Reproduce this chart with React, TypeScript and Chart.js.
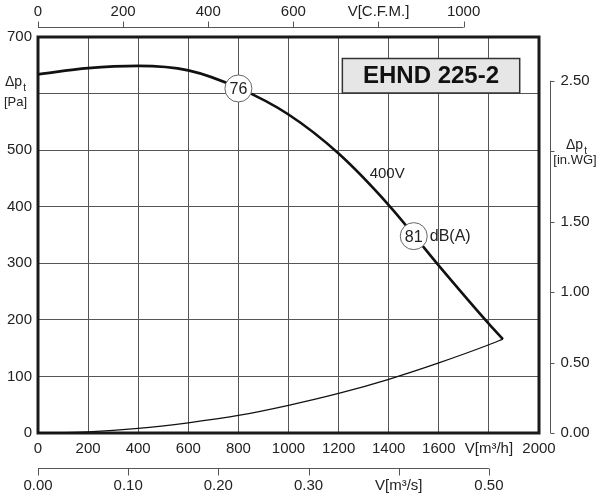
import { useEffect, useRef } from "react"
import { Chart, registerables } from "chart.js"

Chart.register(...registerables)

// fan curve, 400V
const flowM3h = [0, 200, 400, 600, 800, 1000, 1200, 1400, 1600, 1800, 1856]
const fanPa = [634, 645, 649, 641, 610, 563, 494, 403, 296, 193, 166]

// system curve
const systemFlow = [0, 200, 400, 600, 800, 1000, 1200, 1400, 1600, 1800, 1856]
const systemPa = [0, 2, 8, 18, 31, 49, 70, 95, 124, 156, 166]

// sound level marks on the curve
const soundFlow = [800, 1500]
const soundPa = [609, 348]
const soundLabels = ["76", "81"]

// secondary axes
const cfmTicks = [0, 200, 400, 600, 800, 1000]
const cfmLabels = ["0", "200", "400", "600", "V[C.F.M.]", "1000"]
const m3sTicks = [0, 0.1, 0.2, 0.3, 0.4, 0.5]
const m3sLabels = ["0.00", "0.10", "0.20", "0.30", "V[m³/s]", "0.50"]
const inwgTicks = [0, 0.5, 1, 1.5, 2, 2.5]
const inwgLabels = ["0.00", "0.50", "1.00", "1.50", "", "2.50"]

const CFM_TO_M3H = 1.699
const M3S_TO_M3H = 3600
const INWG_TO_PA = 249.09

const FONT = "'Liberation Sans', Arial, Helvetica, sans-serif"
const TEXT = "#222"
const AXIS = "#555"

const framePlugin = {
  id: "frame",
  beforeDatasetsDraw(chart: any) {
    const { ctx, chartArea: a } = chart
    ctx.save()
    ctx.strokeStyle = "#1a1a1a"
    ctx.lineWidth = 3
    ctx.strokeRect(a.left, a.top, a.right - a.left, a.bottom - a.top)
    ctx.restore()
  },
}

const extraAxesPlugin = {
  id: "extraAxes",
  afterDraw(chart: any) {
    const { ctx, chartArea: a } = chart
    const xs = chart.scales.x
    const ys = chart.scales.y
    ctx.save()
    ctx.strokeStyle = AXIS
    ctx.lineWidth = 1
    ctx.fillStyle = TEXT
    ctx.font = `15px ${FONT}`

    // top: C.F.M.
    const topY = 27.5
    const cfmPx = cfmTicks.map((v) => xs.getPixelForValue(v * CFM_TO_M3H))
    ctx.beginPath()
    ctx.moveTo(cfmPx[0], topY)
    ctx.lineTo(cfmPx[cfmPx.length - 1], topY)
    cfmPx.forEach((px) => {
      ctx.moveTo(Math.round(px) + 0.5, topY)
      ctx.lineTo(Math.round(px) + 0.5, topY - 6)
    })
    ctx.stroke()
    ctx.textAlign = "center"
    ctx.textBaseline = "middle"
    cfmPx.forEach((px, i) => ctx.fillText(cfmLabels[i], px, 12))

    // bottom: m3/s
    const botY = 468.5
    const m3sPx = m3sTicks.map((v) => xs.getPixelForValue(v * M3S_TO_M3H))
    ctx.beginPath()
    ctx.moveTo(m3sPx[0], botY)
    ctx.lineTo(m3sPx[m3sPx.length - 1], botY)
    m3sPx.forEach((px) => {
      ctx.moveTo(Math.round(px) + 0.5, botY)
      ctx.lineTo(Math.round(px) + 0.5, botY + 7)
    })
    ctx.stroke()
    m3sPx.forEach((px, i) => ctx.fillText(m3sLabels[i], px, 486))

    // right: in.WG
    const rightX = a.right + 11.5
    const wgPx = inwgTicks.map((v) => ys.getPixelForValue(v * INWG_TO_PA))
    ctx.beginPath()
    ctx.moveTo(rightX, wgPx[0])
    ctx.lineTo(rightX, wgPx[wgPx.length - 1])
    wgPx.forEach((py) => {
      ctx.moveTo(rightX, Math.round(py) + 0.5)
      ctx.lineTo(rightX + 4, Math.round(py) + 0.5)
    })
    ctx.stroke()
    ctx.textAlign = "left"
    wgPx.forEach((py, i) => ctx.fillText(inwgLabels[i], rightX + 10, py))

    // axis titles for pressure
    const deltaP = (x: number, y: number) => {
      ctx.textAlign = "left"
      ctx.font = `14px ${FONT}`
      ctx.fillText("Δp", x, y)
      const w = ctx.measureText("Δp").width
      ctx.font = `10px ${FONT}`
      ctx.fillText("t", x + w + 1, y + 6)
    }
    deltaP(5, 82)
    ctx.font = `13px ${FONT}`
    ctx.textAlign = "left"
    ctx.fillText("[Pa]", 4, 102)
    deltaP(566, 145)
    ctx.font = `13px ${FONT}`
    ctx.textAlign = "center"
    ctx.fillText("[in.WG]", 575, 160)
    ctx.restore()
  },
  afterDatasetsDraw(chart: any) {
    const { ctx } = chart
    const xs = chart.scales.x
    const ys = chart.scales.y
    ctx.save()
    ctx.fillStyle = TEXT
    ctx.textBaseline = "middle"
    ctx.textAlign = "center"

    // numbers in sound circles
    ctx.font = `16px ${FONT}`
    const meta = chart.getDatasetMeta(0)
    meta.data.forEach((pt: any, i: number) => {
      ctx.fillText(soundLabels[i], pt.x, pt.y + 1)
    })
    const last = meta.data[meta.data.length - 1]
    ctx.textAlign = "left"
    ctx.fillText("dB(A)", last.x + 16, last.y)

    ctx.textAlign = "center"
    ctx.font = `15px ${FONT}`
    ctx.fillText("400V", xs.getPixelForValue(1394), ys.getPixelForValue(458))

    // model box
    const l = xs.getPixelForValue(1215)
    const r = xs.getPixelForValue(1923)
    const t = ys.getPixelForValue(662)
    const b = ys.getPixelForValue(601)
    ctx.fillStyle = "#e6e6e6"
    ctx.fillRect(l, t, r - l, b - t)
    ctx.strokeStyle = "#333"
    ctx.lineWidth = 1.5
    ctx.strokeRect(l, t, r - l, b - t)
    ctx.fillStyle = "#111"
    ctx.font = `bold 24px ${FONT}`
    ctx.fillText("EHND 225-2", (l + r) / 2, (t + b) / 2 + 1)
    ctx.restore()
  },
}

export default function App() {
  const chartRef = useRef<HTMLCanvasElement>(null)
  const chartInstance = useRef<Chart | null>(null)

  useEffect(() => {
    if (!chartRef.current) return
    if (chartInstance.current) chartInstance.current.destroy()
    const ctx = chartRef.current.getContext("2d")
    if (!ctx) return

    chartInstance.current = new Chart(ctx, {
      type: "line",
      data: {
        datasets: [
          {
            type: "scatter",
            data: soundFlow.map((v, i) => ({ x: v, y: soundPa[i] })),
            pointRadius: 13.5,
            pointBackgroundColor: "#fff",
            pointBorderColor: "#666",
            pointBorderWidth: 1,
            showLine: false,
          } as any,
          {
            data: flowM3h.map((v, i) => ({ x: v, y: fanPa[i] })),
            borderColor: "#111",
            borderWidth: 2.6,
            pointRadius: 0,
            cubicInterpolationMode: "monotone",
          },
          {
            data: systemFlow.map((v, i) => ({ x: v, y: systemPa[i] })),
            borderColor: "#111",
            borderWidth: 1.3,
            pointRadius: 0,
            cubicInterpolationMode: "monotone",
          },
        ],
      },
      options: {
        animation: false,
        responsive: true,
        maintainAspectRatio: false,
        layout: { padding: { top: 37, right: 61, bottom: 0, left: 0 } },
        scales: {
          x: {
            type: "linear",
            min: 0,
            max: 2000,
            afterFit: (s: any) => {
              s.height = 67
            },
            ticks: {
              stepSize: 200,
              autoSkip: false,
              maxRotation: 0,
              padding: 7,
              color: TEXT,
              font: { family: FONT, size: 15 },
              callback: (v: any) => (v === 1800 ? "V[m³/h]" : String(v)),
            },
            grid: { color: AXIS, lineWidth: 1, drawTicks: false },
            border: { display: false },
          },
          y: {
            type: "linear",
            min: 0,
            max: 700,
            afterFit: (s: any) => {
              s.width = 38
            },
            ticks: {
              stepSize: 100,
              padding: 6,
              color: TEXT,
              font: { family: FONT, size: 15 },
              callback: (v: any) => (v === 600 ? "" : String(v)),
            },
            grid: { color: AXIS, lineWidth: 1, drawTicks: false },
            border: { display: false },
          },
        },
        plugins: {
          legend: { display: false },
          tooltip: { enabled: false },
        },
      },
      plugins: [framePlugin, extraAxesPlugin],
    })

    return () => {
      if (chartInstance.current) {
        chartInstance.current.destroy()
        chartInstance.current = null
      }
    }
  }, [])

  return (
    <div style={{ position: "fixed", left: 0, top: 0, width: 600, height: 500, background: "#fff" }}>
      <canvas ref={chartRef} />
    </div>
  )
}
